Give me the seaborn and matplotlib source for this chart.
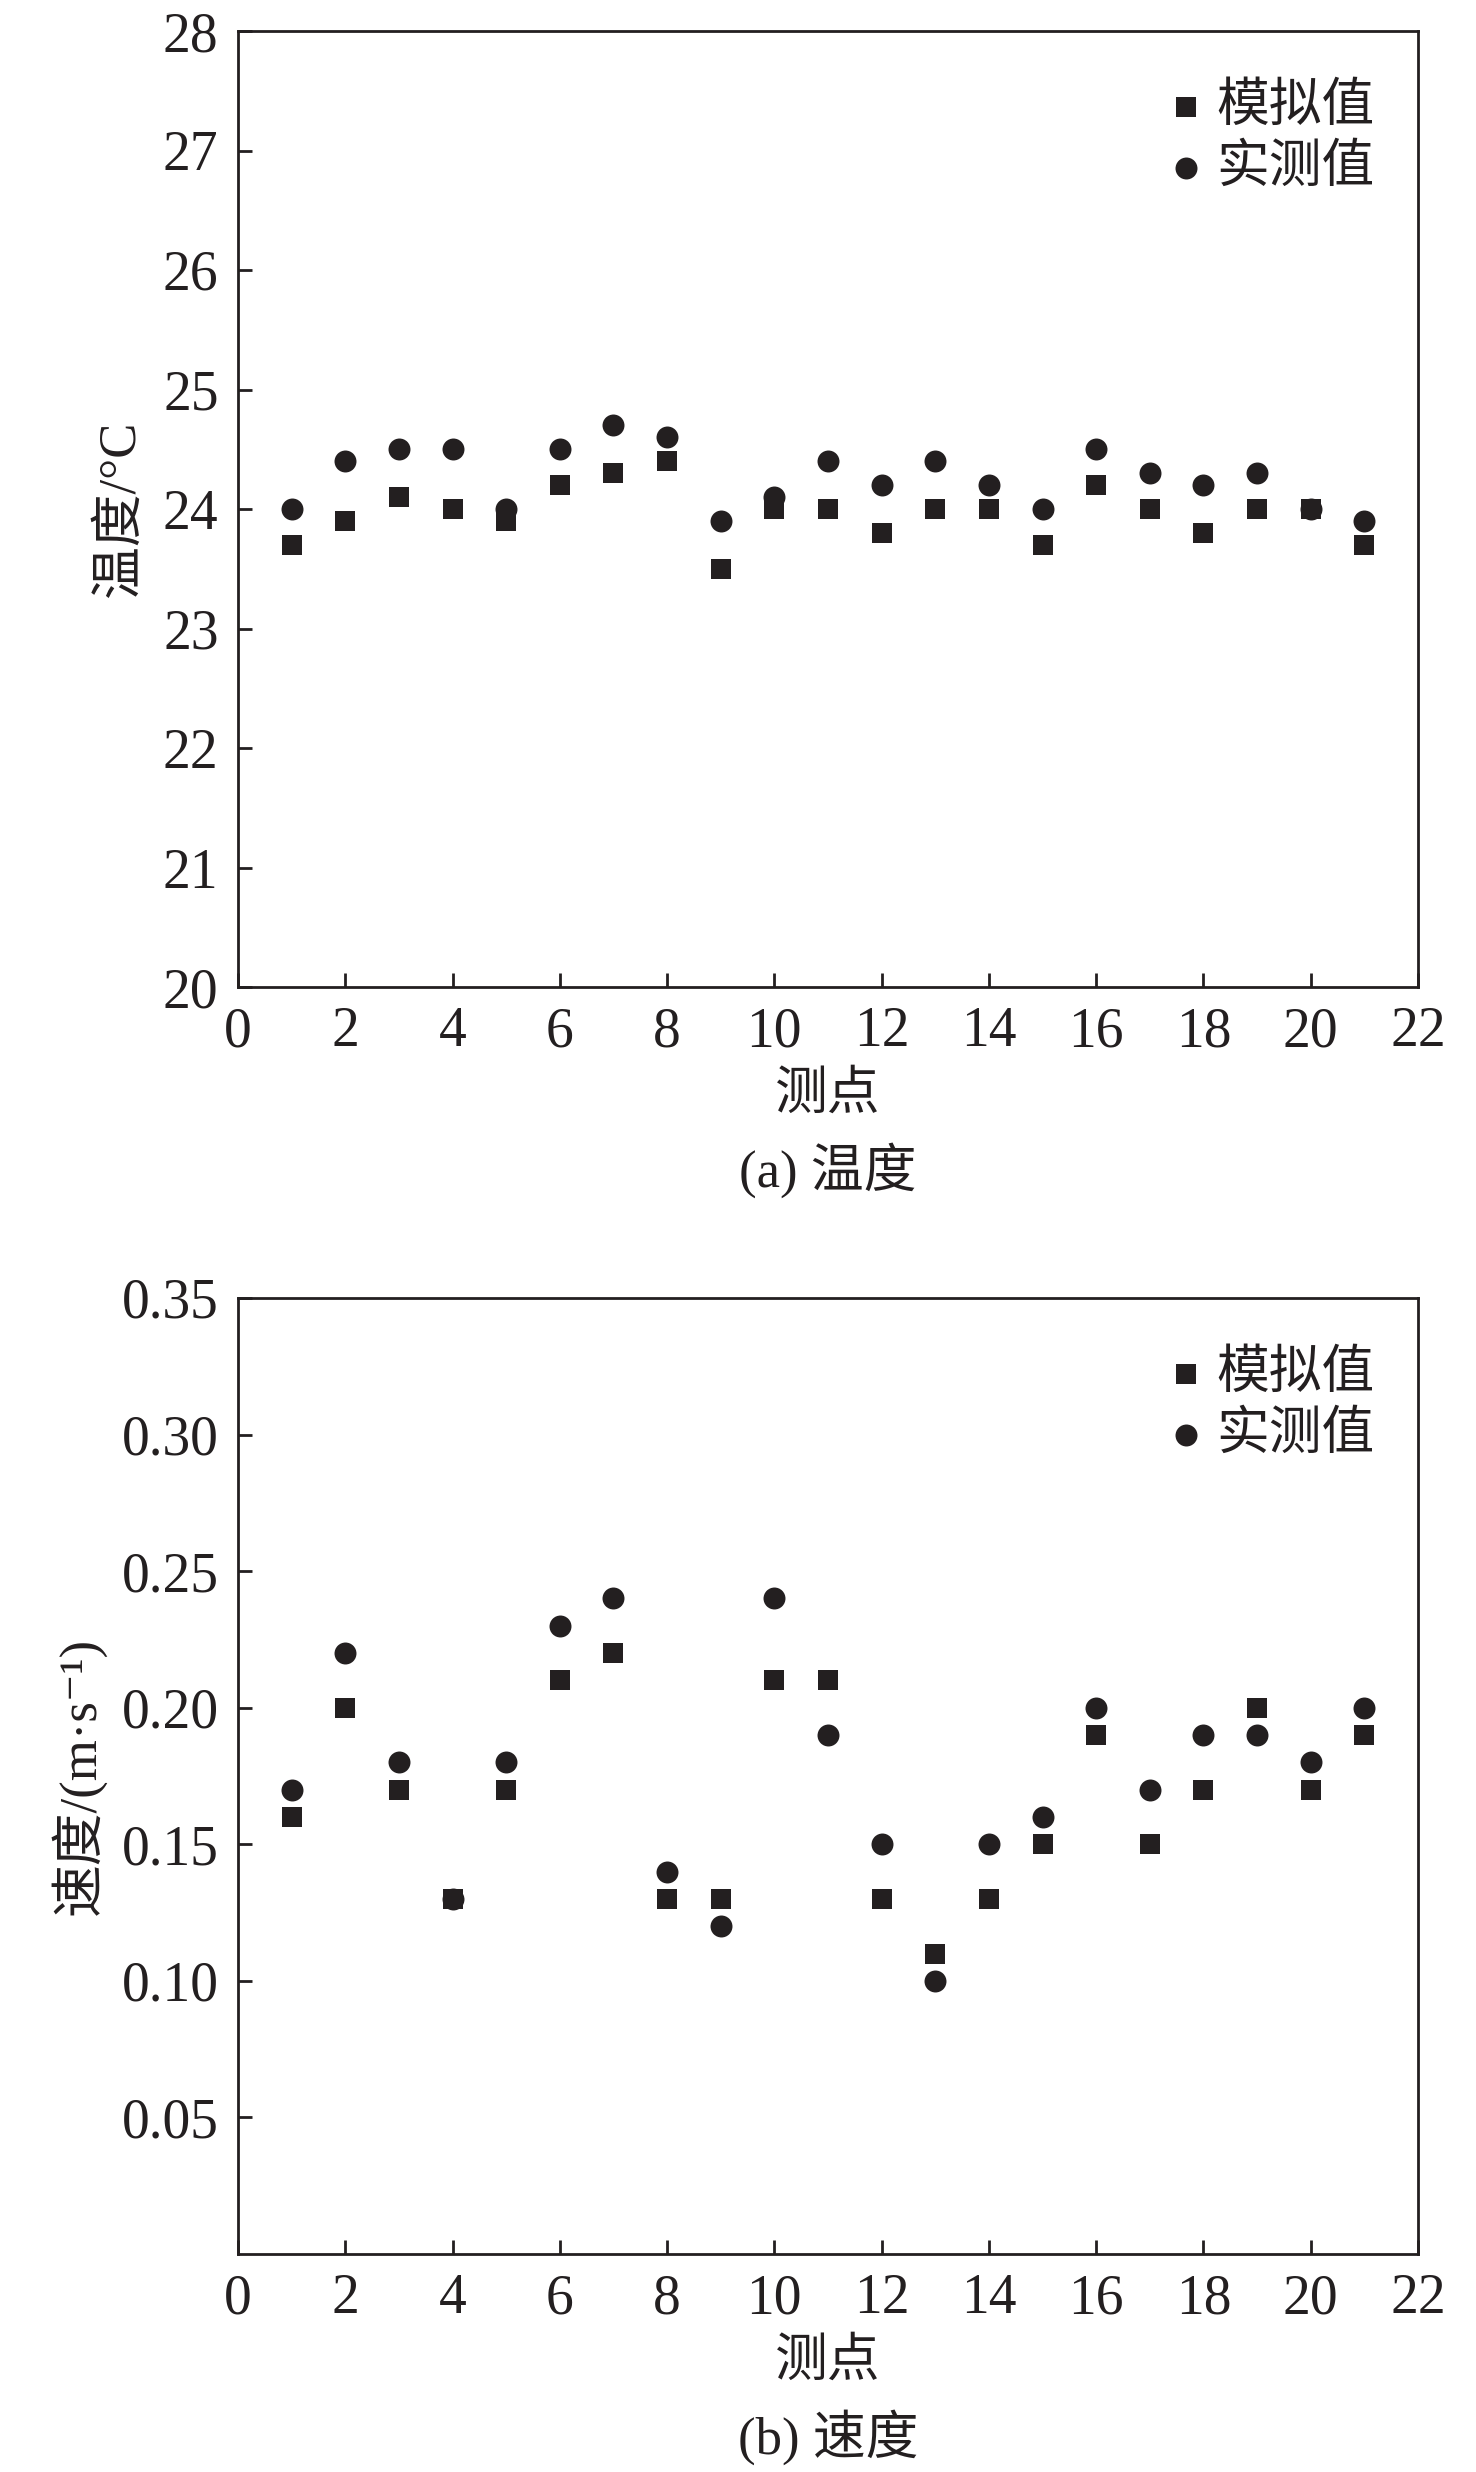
import numpy as np
import pandas as pd
import matplotlib
matplotlib.use("Agg")
import matplotlib.pyplot as plt
import seaborn as sns

points = list(range(1, 22))
temp_sim = [23.7, 23.9, 24.1, 24.0, 23.9, 24.2, 24.3, 24.4, 23.5, 24.0, 24.0,
            23.8, 24.0, 24.0, 23.7, 24.2, 24.0, 23.8, 24.0, 24.0, 23.7]
temp_meas = [24.0, 24.4, 24.5, 24.5, 24.0, 24.5, 24.7, 24.6, 23.9, 24.1, 24.4,
             24.2, 24.4, 24.2, 24.0, 24.5, 24.3, 24.2, 24.3, 24.0, 23.9]
vel_sim = [0.16, 0.20, 0.17, 0.13, 0.17, 0.21, 0.22, 0.13, 0.13, 0.21, 0.21,
           0.13, 0.11, 0.13, 0.15, 0.19, 0.15, 0.17, 0.20, 0.17, 0.19]
vel_meas = [0.17, 0.22, 0.18, 0.13, 0.18, 0.23, 0.24, 0.14, 0.12, 0.24, 0.19,
            0.15, 0.10, 0.15, 0.16, 0.20, 0.17, 0.19, 0.19, 0.18, 0.20]

x_ticks = list(range(0, 23, 2))
temp_ticks = list(range(20, 29))
vel_ticks = [0.05, 0.10, 0.15, 0.20, 0.25, 0.30, 0.35]
vel_tick_labels = ["0.05", "0.10", "0.15", "0.20", "0.25", "0.30", "0.35"]

sns.set_theme(style="ticks")
plt.rcParams['font.family'] = ['Liberation Serif', 'Noto Sans CJK SC', 'DejaVu Sans']
plt.rcParams['axes.unicode_minus'] = True

INK = '#231f20'
FS = 40
FS_CJK = 38
W, H = 1476, 2472
fig = plt.figure(figsize=(W / 100, H / 100), dpi=100)

L, R = 238, 1418
ax1 = fig.add_axes([L / W, 1 - 987 / H, (R - L) / W, 956 / H])
ax2 = fig.add_axes([L / W, 1 - 2254 / H, (R - L) / W, 956 / H])


def draw(ax, sim, meas, ylim, yticks, yticklabels, ylabel, caption, ylabel_x):
    df = pd.DataFrame({'pt': points, 'sim': sim, 'meas': meas})
    sns.scatterplot(data=df, x='pt', y='sim', ax=ax, marker='s', s=190,
                    color=INK, linewidth=0, label='模拟值')
    sns.scatterplot(data=df, x='pt', y='meas', ax=ax, marker='o', s=250,
                    color=INK, linewidth=0, label='实测值')
    ax.set_xlim(0, 22)
    ax.set_ylim(*ylim)
    ax.set_xticks(x_ticks)
    ax.set_xticklabels([str(t) for t in x_ticks])
    ax.set_yticks(yticks)
    ax.set_yticklabels(yticklabels)
    ax.tick_params(direction='in', length=10, width=2.0, color=INK,
                   labelsize=FS, labelcolor=INK, pad=14,
                   top=False, right=False)
    ax.tick_params(axis='y', pad=14)
    for sp in ax.spines.values():
        sp.set_visible(True)
        sp.set_linewidth(2.0)
        sp.set_color(INK)
    ax.set_xlabel('测点', fontsize=FS_CJK, color=INK, va='center')
    ax.xaxis.set_label_coords(0.5, -0.113)
    ax.set_ylabel(ylabel, fontsize=FS_CJK, color=INK, va='center')
    ax.yaxis.set_label_coords(ylabel_x, 0.5)
    ax.text(0.5, -0.192, caption, transform=ax.transAxes, ha='center',
            va='center', fontsize=FS_CJK, color=INK)
    leg = ax.legend(loc='upper right', bbox_to_anchor=(1.008, 1.0), frameon=False,
                    fontsize=FS_CJK, handletextpad=0.08, borderaxespad=0.6,
                    labelspacing=0.22, handlelength=1.0, borderpad=0.4)
    for t in leg.get_texts():
        t.set_color(INK)


draw(ax1, temp_sim, temp_meas, (20, 28), temp_ticks,
     [str(t) for t in temp_ticks], '温度/°C', '(a) 温度', -0.100)
draw(ax2, vel_sim, vel_meas, (0, 0.35), vel_ticks, vel_tick_labels,
     '速度/(m·s⁻¹)', '(b) 速度', -0.136)

fig.savefig('out.png', dpi=100, facecolor='white')
